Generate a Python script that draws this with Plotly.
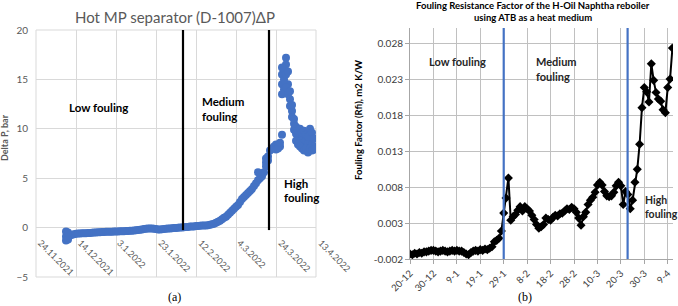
import plotly.graph_objects as go
import pandas as pd

# ---------------- Left chart data (Hot MP separator ΔP, bar) ----------------
dp_start = "2021-12-09"
dp_daily = [
    -0.9, -0.85, -0.8, -0.72, -0.68, -0.62, -0.6, -0.6, -0.58, -0.57,
    -0.56, -0.55, -0.54, -0.52, -0.5, -0.49, -0.48, -0.47, -0.45, -0.44,
    -0.43, -0.42, -0.42, -0.41, -0.4, -0.4, -0.39, -0.38, -0.37, -0.36,
    -0.35, -0.34, -0.33, -0.32, -0.3, -0.28, -0.25, -0.22, -0.18, -0.15,
    -0.12, -0.1, -0.08, -0.1, -0.12, -0.15, -0.18, -0.2, -0.17, -0.15,
    -0.12, -0.1, -0.08, -0.06, -0.05, -0.03, -0.02, 0.0, 0.02, 0.03,
    0.05, 0.07, 0.1, 0.1, 0.12, 0.15, 0.15, 0.18, 0.2, 0.2,
    0.22, 0.25, 0.3, 0.35, 0.4, 0.5, 0.6, 0.7, 0.85, 1.0,
    1.1, 1.3, 1.5, 1.7, 1.9, 2.1, 2.3, 2.6, 2.9, 3.1,
    3.3, 3.5, 3.7, 3.9, 4.2, 4.5, 4.8, 5.0, 5.2, 5.6,
    6.2, 7.2, 7.8, 8.0, 8.2, 8.4, 8.3, 8.2, 15.5, 16.0,
    16.5, 14.5, 13.0, 11.8, 10.5, 9.5, 9.2, 8.8, 9.0, 8.6,
    8.8, 8.5, 8.7, 8.4, 8.2,
]
dp_extra_dates = [
    "2021-12-09", "2021-12-09", "2021-12-10", "2021-12-10",
    "2022-03-15", "2022-03-19", "2022-03-19", "2022-03-20",
    "2022-03-24", "2022-03-25", "2022-03-26", "2022-03-27",
    "2022-03-27", "2022-03-27", "2022-03-27", "2022-03-28", "2022-03-28",
    "2022-03-28", "2022-03-29", "2022-03-29", "2022-03-29", "2022-03-30",
    "2022-03-30", "2022-03-31", "2022-03-31", "2022-04-01", "2022-04-01",
    "2022-04-02", "2022-04-02", "2022-04-03", "2022-04-03", "2022-04-04",
    "2022-04-04", "2022-04-05", "2022-04-05", "2022-04-06", "2022-04-06",
    "2022-04-07", "2022-04-07", "2022-04-08", "2022-04-08", "2022-04-09",
    "2022-04-09", "2022-04-10", "2022-04-10", "2022-04-11", "2022-04-11",
    "2022-04-12", "2022-04-12",
]
dp_extra_values = [
    -1.3, -0.4, -1.2, -0.5,
    5.6, 6.6, 7.0, 6.8,
    7.9, 8.0, 8.6, 13.5,
    14.5, 16.2, 9.4, 15.0, 14.0,
    13.6, 17.2, 15.5, 14.2, 15.8,
    13.5, 12.3, 13.8, 11.2, 12.4,
    9.9, 11.0, 10.2, 8.8, 9.8,
    8.4, 10.0, 8.2, 9.6, 8.0,
    9.8, 7.8, 9.4, 8.0, 9.2,
    7.6, 10.0, 8.0, 9.6, 7.8,
    9.0, 7.9,
]
left_tick_dates = ["2021-11-24", "2021-12-14", "2022-01-03", "2022-01-23",
                   "2022-02-12", "2022-03-04", "2022-03-24", "2022-04-13"]
left_tick_text = ["24.11.2021", "14.12.2021", "3.1.2022", "23.1.2022",
                  "12.2.2022", "4.3.2022", "24.3.2022", "13.4.2022"]
left_boundaries = ["2022-02-05 12:00", "2022-03-20 12:00"]

# ---------------- Right chart data (Fouling factor, m2 K/W) ----------------
rf_start = "2021-12-20"
rf_values = [
    -0.0013, -0.0014, -0.0012, -0.0013, -0.0011, -0.0012, -0.0010, -0.0010,
    -0.0009, -0.0008, -0.0008, -0.0009, -0.0010, -0.0009, -0.0008, -0.0009,
    -0.0010, -0.0009, -0.0008, -0.0009, -0.0008, -0.0009, -0.0009, -0.0011,
    -0.0013, -0.0014, -0.0011, -0.0009, -0.0008, -0.0009, -0.0007, -0.0008,
    -0.0006, -0.0007, -0.0005, -0.0003, 0.0004, 0.0006, 0.0009, 0.0019,
    0.0044, 0.0065, 0.0093, 0.0034, 0.0039, 0.0042, 0.0048, 0.0053,
    0.0047, 0.0053, 0.0050, 0.0047, 0.0041, 0.0035, 0.0028, 0.0023,
    0.0025, 0.0028, 0.0037, 0.0035, 0.0034, 0.0038, 0.0041, 0.0040,
    0.0043, 0.0044, 0.0047, 0.0050, 0.0049, 0.0052, 0.0050, 0.0045,
    0.0037, 0.0027, 0.0039, 0.0045, 0.0056, 0.0062, 0.0066, 0.0073,
    0.0083, 0.0087, 0.0083, 0.0074, 0.0068, 0.0067, 0.0068, 0.0073,
    0.0082, 0.0087, 0.0082, 0.0056, 0.0074, 0.0070, 0.0050, 0.0062,
    0.0087, 0.0105, 0.0140, 0.0191, 0.0219, 0.0213, 0.0199, 0.0252,
    0.0229, 0.0212, 0.0203, 0.0200, 0.0188, 0.0184, 0.0219, 0.0231,
    0.0274,
]
right_tick_dates = ["2021-12-20", "2021-12-30", "2022-01-09", "2022-01-19",
                    "2022-01-29", "2022-02-08", "2022-02-18", "2022-02-28",
                    "2022-03-10", "2022-03-20", "2022-03-30", "2022-04-09"]
right_tick_text = ["20-12", "30-12", "9-1", "19-1", "29-1", "8-2", "18-2",
                   "28-2", "10-3", "20-3", "30-3", "9-4"]
right_y_ticks = [-0.002, 0.003, 0.008, 0.013, 0.018, 0.023, 0.028]
right_boundaries = ["2022-01-29", "2022-03-22 21:00"]

W, H = 678, 306
def px(x):
    return x / W
def py(y):
    return (H - y) / H

dp_dates = pd.date_range(dp_start, periods=len(dp_daily), freq="D")
rf_dates = pd.date_range(rf_start, periods=len(rf_values), freq="D")

FONT = "Lato"
BLUE = "#4472C4"

fig = go.Figure()
fig.add_trace(go.Scatter(
    x=list(dp_dates) + pd.to_datetime(dp_extra_dates).tolist(),
    y=dp_daily + dp_extra_values,
    mode="markers", marker=dict(color=BLUE, size=8, line=dict(width=0)),
    xaxis="x", yaxis="y", showlegend=False, hoverinfo="skip"))
fig.add_trace(go.Scatter(
    x=rf_dates, y=rf_values, mode="lines+markers",
    line=dict(color="black", width=2),
    marker=dict(symbol="diamond", size=7, color="black"),
    xaxis="x2", yaxis="y2", showlegend=False, hoverinfo="skip"))

left_y_dom = [py(277), py(30)]

fig.update_layout(
    width=W, height=H, margin=dict(l=0, r=0, t=0, b=0, autoexpand=False),
    paper_bgcolor="white", plot_bgcolor="white",
    font=dict(family=FONT, color="#595959"),
    xaxis=dict(type="date", domain=[px(36), px(316)],
               range=["2021-11-24", "2022-04-13"], automargin=False,
               anchor="y", tickmode="array", tickvals=left_tick_dates,
               showticklabels=False,
               showgrid=True, gridcolor="#d9d9d9", gridwidth=1,
               zeroline=False, showline=False, ticks=""),
    yaxis=dict(domain=left_y_dom, range=[-5, 20], dtick=5, tick0=0,
               anchor="x", automargin=False,
               showgrid=True, gridcolor="#d9d9d9",
               zeroline=False, showline=False, ticks="",
               tickfont=dict(size=10, color="#595959"), ticklabelstandoff=7),
    xaxis2=dict(type="date", domain=[px(410), px(673)],
                range=["2021-12-20", "2022-04-11 06:00"], automargin=False,
                anchor="y2", tickmode="array", tickvals=right_tick_dates,
                ticktext=right_tick_text, tickangle=-45,
                tickfont=dict(size=9.5, color="#404040"),
                showgrid=True, gridcolor="#c0c0c0", zeroline=False,
                showline=True, linecolor="#a6a6a6", ticks="outside",
                ticklen=4, tickcolor="#a6a6a6"),
    yaxis2=dict(domain=[py(259), py(28)], range=[-0.002, 0.0302],
                anchor="x2", automargin=False, tickmode="array",
                tickvals=right_y_ticks,
                ticktext=[f"{v:.3f}" for v in right_y_ticks],
                tickfont=dict(size=10, color="#404040"),
                showgrid=True, gridcolor="#c0c0c0", zeroline=False,
                showline=True, linecolor="#a6a6a6", ticks="outside",
                ticklen=4, tickcolor="#a6a6a6"),
)

shapes = [dict(type="rect", xref="x domain", yref="y domain", x0=0, x1=1, y0=0, y1=1,
               line=dict(color="#d9d9d9", width=1), layer="below")]
for d in left_boundaries:
    shapes.append(dict(type="line", xref="x", yref="y", x0=d, x1=d, y0=-0.25, y1=20,
                       line=dict(color="black", width=2.2)))
for d in right_boundaries:
    shapes.append(dict(type="line", xref="x2", yref="y2 domain", x0=d, x1=d, y0=0, y1=1,
                       line=dict(color=BLUE, width=2.2)))
fig.update_layout(shapes=shapes)

# Left x tick labels, hanging below the zero line, reading down-right from each tick
for d, t in zip(left_tick_dates, left_tick_text):
    fig.add_annotation(x=d, y=0, xref="x", yref="y", text=t, showarrow=False,
                       textangle=45, xanchor="left", yanchor="top",
                       xshift=-3, yshift=-7,
                       font=dict(size=9, color="#595959", family=FONT))

def ann(x, y, text, size=11, color="black", bold=True, xanchor="center", family=FONT, angle=0):
    t = f"<b>{text}</b>" if bold else text
    fig.add_annotation(x=px(x), y=py(y), xref="paper", yref="paper", text=t,
                       showarrow=False, xanchor=xanchor, yanchor="middle",
                       textangle=angle,
                       font=dict(size=size, color=color, family=family))

# Left chart texts
ann(175, 17, "Hot MP separator (D-1007)ΔP", size=15, color="#595959", bold=False)
ann(5, 138, "Delta P, bar", size=9, color="#595959", angle=-90)
ann(98, 107, "Low fouling", size=11.5)
ann(200, 101, "Medium", size=11.5, xanchor="left")
ann(200, 116, "fouling", size=11.5, xanchor="left")
ann(282, 183, "High", size=11.5, xanchor="left")
ann(282, 198, "fouling", size=11.5, xanchor="left")
ann(175, 297, "(a)", size=12, color="black", bold=False, family="Liberation Serif")

# Right chart texts
ann(533, 5, "Fouling Resistance Factor of the H-Oil Naphtha reboiler", size=9.5, color="black")
ann(533, 17, "using ATB as a heat medium", size=9.5, color="black")
ann(358, 120, "Fouling Factor (Rfi), m2 K/W", size=9.5, color="black", angle=-90)
ann(457, 62, "Low fouling", size=11, color="#262626")
ann(534, 62, "Medium", size=11, color="#262626", xanchor="left")
ann(534, 76, "fouling", size=11, color="#262626", xanchor="left")
ann(643, 200, "High", size=10.5, color="#262626", xanchor="left")
ann(643, 214, "fouling", size=10.5, color="#262626", xanchor="left")
ann(525, 297, "(b)", size=12, color="black", bold=False, family="Liberation Serif")

fig.write_html("out.html", post_script="document.body.style.margin='0';",
               config={"displayModeBar": False})
